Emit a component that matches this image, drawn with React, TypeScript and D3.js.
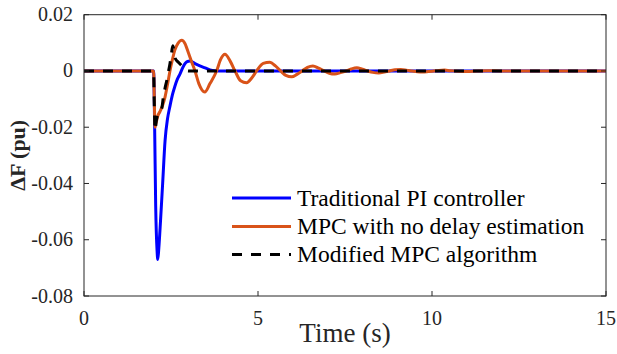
import React from "react";
import * as d3 from "d3";

const xTicks = [0, 5, 10, 15];
const yTicks = [-0.08, -0.06, -0.04, -0.02, 0, 0.02];
const yTickLabels = ["-0.08", "-0.06", "-0.04", "-0.02", "0", "0.02"];

const seriesNames = [
  "Traditional PI controller",
  "MPC with no delay estimation",
  "Modified MPC algorithm",
];

const piTime = [0, 2.0, 2.03, 2.06, 2.1, 2.12, 2.15, 2.2, 2.26, 2.33, 2.4, 2.47, 2.54, 2.61, 2.68, 2.76, 2.85, 2.95, 3.05, 3.19, 3.33, 3.48, 3.62, 3.76, 4.0, 15];
const piValue = [0, 0, -0.02, -0.048, -0.064, -0.067, -0.063, -0.053, -0.04, -0.0247, -0.017, -0.0125, -0.0085, -0.0055, -0.003, -0.001, 0.0015, 0.0032, 0.0035, 0.0026, 0.0018, 0.0011, 0.0004, 0.0001, 0, 0];

const mpcTime = [0, 2.0, 2.02, 2.04, 2.07, 2.12, 2.18, 2.25, 2.33, 2.4, 2.47, 2.54, 2.61, 2.7, 2.81, 2.9, 3.0, 3.1, 3.19, 3.3, 3.47, 3.62, 3.81, 3.93, 4.05, 4.2, 4.34, 4.5, 4.67, 4.82, 4.96, 5.15, 5.34, 5.5, 5.65, 5.8, 5.97, 6.12, 6.27, 6.42, 6.58, 6.74, 6.9, 7.05, 7.21, 7.37, 7.53, 7.68, 7.84, 8.0, 8.15, 8.3, 8.47, 8.63, 8.78, 8.94, 9.1, 9.26, 9.42, 9.58, 9.73, 9.9, 10.05, 10.2, 10.36, 10.52, 10.68, 11.0, 11.3, 11.6, 12, 15];
const mpcValue = [0, 0, -0.01, -0.02, -0.0185, -0.016, -0.0145, -0.0125, -0.0092, -0.0048, 0, 0.004, 0.0074, 0.0098, 0.0109, 0.0098, 0.0065, 0.003, 0, -0.0045, -0.0075, -0.0045, 0, 0.0042, 0.0059, 0.0035, 0, -0.0035, -0.0042, -0.0025, 0, 0.0027, 0.0031, 0.0018, 0, -0.0016, -0.0021, -0.0012, 0, 0.0013, 0.0018, 0.001, 0, -0.0008, -0.0011, -0.0006, 0, 0.0007, 0.0011, 0.0006, 0, -0.0005, -0.0007, -0.0004, 0, 0.0004, 0.0005, 0.0003, 0, -0.0003, -0.0004, -0.0002, 0, 0.0002, 0.0003, 0.0001, 0, -0.0002, 0, 0.0001, 0, 0];

const modTime = [0, 2.0, 2.02, 2.04, 2.08, 2.14, 2.2, 2.24, 2.28, 2.33, 2.38, 2.43, 2.47, 2.51, 2.55, 2.62, 2.72, 2.81, 2.9, 3.0, 15];
const modValue = [0, 0, -0.012, -0.021, -0.0175, -0.0148, -0.0142, -0.013, -0.0092, -0.006, -0.0033, 0, 0.0026, 0.0058, 0.009, 0.0045, 0.003, 0.0018, 0.0005, 0, 0];

const W = 617;
const H = 354;
const left = 84;
const right = 606;
const top = 14.7;
const bottom = 296;
const axisColor = "#262626";
const serif = "'Liberation Serif', 'Times New Roman', 'DejaVu Serif', serif";

export default function App() {
  const x = d3.scaleLinear().domain([0, 15]).range([left, right]);
  const y = d3.scaleLinear().domain([-0.08, 0.02]).range([bottom, top]);
  const line = d3
    .line<[number, number]>()
    .x((d) => x(d[0]))
    .y((d) => y(d[1]))
    .curve(d3.curveMonotoneX);

  const zip = (t: number[], v: number[]) => t.map((ti, i) => [ti, v[i]] as [number, number]);

  const series = [
    { name: seriesNames[0], data: zip(piTime, piValue), color: "#0000FF", dash: undefined as string | undefined },
    { name: seriesNames[1], data: zip(mpcTime, mpcValue), color: "#D95319", dash: undefined as string | undefined },
    { name: seriesNames[2], data: zip(modTime, modValue), color: "#000000", dash: "10,9" },
  ];

  const tickLen = 5;
  const legendY = [198, 226.5, 254.5];
  const ts = { fontFamily: serif };

  return (
    <svg
      width={W}
      height={H}
      style={{ position: "absolute", left: 0, top: 0, background: "#fff", fontFamily: serif }}
    >
      <rect x={0} y={0} width={W} height={H} fill="#fff" />
      <defs>
        <clipPath id="plotClip">
          <rect x={left} y={top} width={right - left} height={bottom - top} />
        </clipPath>
      </defs>

      <g clipPath="url(#plotClip)">
        {series.map((s) => (
          <path
            key={s.name}
            d={line(s.data) || ""}
            fill="none"
            stroke={s.color}
            strokeWidth={3}
            strokeDasharray={s.dash}
            strokeLinejoin="round"
          />
        ))}
      </g>

      <rect
        x={left}
        y={top}
        width={right - left}
        height={bottom - top}
        fill="none"
        stroke={axisColor}
        strokeWidth={1}
      />

      {xTicks.map((t) => (
        <g key={"x" + t}>
          <line x1={x(t)} x2={x(t)} y1={bottom} y2={bottom - tickLen} stroke={axisColor} />
          <line x1={x(t)} x2={x(t)} y1={top} y2={top + tickLen} stroke={axisColor} />
          <text x={x(t)} y={325} textAnchor="middle" fontSize={20} fill={axisColor} style={ts}>
            {t}
          </text>
        </g>
      ))}

      {yTicks.map((t, i) => (
        <g key={"y" + t}>
          <line x1={left} x2={left + tickLen} y1={y(t)} y2={y(t)} stroke={axisColor} />
          <line x1={right} x2={right - tickLen} y1={y(t)} y2={y(t)} stroke={axisColor} />
          <text x={73} y={y(t) + 6.5} textAnchor="end" fontSize={20} fill={axisColor} style={ts}>
            {yTickLabels[i]}
          </text>
        </g>
      ))}

      <text x={(left + right) / 2} y={342} textAnchor="middle" fontSize={27} fill={axisColor} style={ts}>
        Time (s)
      </text>
      <text
        transform={`translate(25,${(top + bottom) / 2}) rotate(-90)`}
        textAnchor="middle"
        fontSize={22}
        fontWeight="bold"
        fill={axisColor}
        style={ts}
      >
        ΔF (pu)
      </text>

      {series.map((s, i) => (
        <g key={"leg" + i}>
          <line
            x1={232}
            x2={291}
            y1={legendY[i]}
            y2={legendY[i]}
            stroke={s.color}
            strokeWidth={3}
            strokeDasharray={s.dash}
          />
          <text x={297} y={legendY[i] + 7.5} fontSize={23.5} fill="#000" style={ts}>
            {s.name}
          </text>
        </g>
      ))}
    </svg>
  );
}
